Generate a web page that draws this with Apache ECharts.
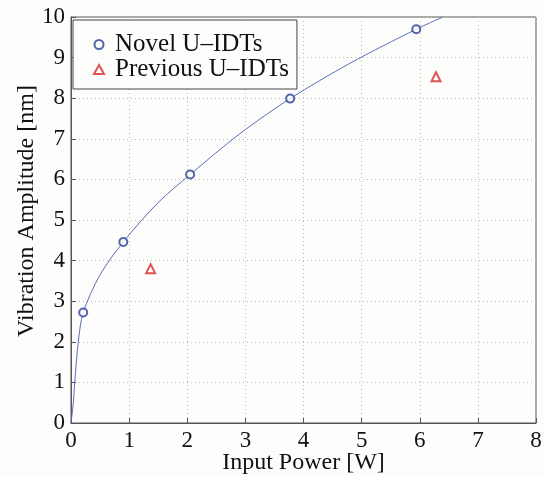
<!DOCTYPE html>
<html><head><meta charset="utf-8">
<script src="https://cdn.jsdelivr.net/npm/echarts@6/dist/echarts.min.js"></script>
<style>html,body{margin:0;padding:0;background:#fdfdfb}#c{width:544px;height:477px}</style>
</head><body><div id="c"></div>
<script>
var xTicks = [0,1,2,3,4,5,6,7,8];
var yTicks = [0,1,2,3,4,5,6,7,8,9,10];
var novelX = [0.21, 0.90, 2.05, 3.77, 5.94];
var novelY = [2.72, 4.46, 6.12, 7.99, 9.70];
var prevX = [1.37, 6.28];
var prevY = [3.80, 8.53];
var curveX = [0, 0.04, 0.064, 0.126, 0.21, 0.5, 0.90, 1.5, 2.05, 2.9, 3.77, 4.8, 5.94, 6.40];
var curveY = [0, 0.5, 1.0, 2.0, 2.72, 3.65, 4.46, 5.43, 6.12, 7.12, 7.99, 8.86, 9.70, 10];

function zip(a,b){return a.map(function(v,i){return [v,b[i]];});}
var font = '"Liberation Serif", "DejaVu Serif", serif';
var chart = echarts.init(document.getElementById('c'));
chart.setOption({
  backgroundColor: '#fdfdfb',
  animation: false,
  grid: {left: 71, right: 8, top: 17, bottom: 54, show: true, borderColor: '#555', borderWidth: 1, backgroundColor: 'transparent',
         containLabel: false, outerBoundsMode: 'none'},
  legend: {
    orient: 'vertical', left: 73, top: 20,
    data: ['Novel U\u2013IDTs', 'Previous U\u2013IDTs'],
    backgroundColor: '#fdfdfb', borderColor: '#444', borderWidth: 1,
    padding: [12, 8, 7, 20], itemGap: 0, itemWidth: 10, itemHeight: 9,
    textStyle: {fontFamily: font, fontSize: 25, color: '#111', lineHeight: 20, padding: [0,0,0,6]}
  },
  xAxis: {
    type: 'value', min: 0, max: 8, interval: 1,
    name: 'Input Power [W]', nameLocation: 'middle', nameGap: 28, nameMoveOverlap: false,
    nameTextStyle: {fontFamily: font, fontSize: 24, color: '#111'},
    axisLine: {show: true, lineStyle: {color: '#555'}},
    axisTick: {show: true, inside: true, length: 5, lineStyle: {color: '#555'}},
    axisLabel: {fontFamily: font, fontSize: 23, color: '#111', margin: 6},
    splitLine: {show: true, lineStyle: {color: '#bbb', type: [1, 3], width: 1}}
  },
  yAxis: {
    type: 'value', min: 0, max: 10, interval: 1,
    name: 'Vibration Amplitude [nm]', nameLocation: 'middle', nameGap: 32, nameRotate: 90, nameMoveOverlap: false,
    nameTextStyle: {fontFamily: font, fontSize: 24, color: '#111', padding: [0, 0, 0, 18]},
    axisLine: {show: true, lineStyle: {color: '#555'}},
    axisTick: {show: true, inside: true, length: 5, lineStyle: {color: '#555'}},
    axisLabel: {fontFamily: font, fontSize: 23, color: '#111', margin: 6},
    splitLine: {show: true, lineStyle: {color: '#bbb', type: [1, 3], width: 1}}
  },
  series: [
    {type: 'line', name: 'fit', data: zip(curveX, curveY), smooth: 0.3, showSymbol: false, symbol: 'none',
     lineStyle: {color: '#5a6db8', width: 1}, z: 2, silent: true},
    {type: 'scatter', name: 'Novel U\u2013IDTs', data: zip(novelX, novelY), symbol: 'emptyCircle', symbolSize: 8,
     itemStyle: {color: '#2b3f96', borderColor: '#2b3f96', borderWidth: 2}, z: 3},
    {type: 'scatter', name: 'Previous U\u2013IDTs', data: zip(prevX, prevY), symbol: 'emptyTriangle', symbolSize: 9,
     itemStyle: {color: '#d42a2a', borderColor: '#d42a2a', borderWidth: 2}, z: 3}
  ]
});
</script></body></html>
